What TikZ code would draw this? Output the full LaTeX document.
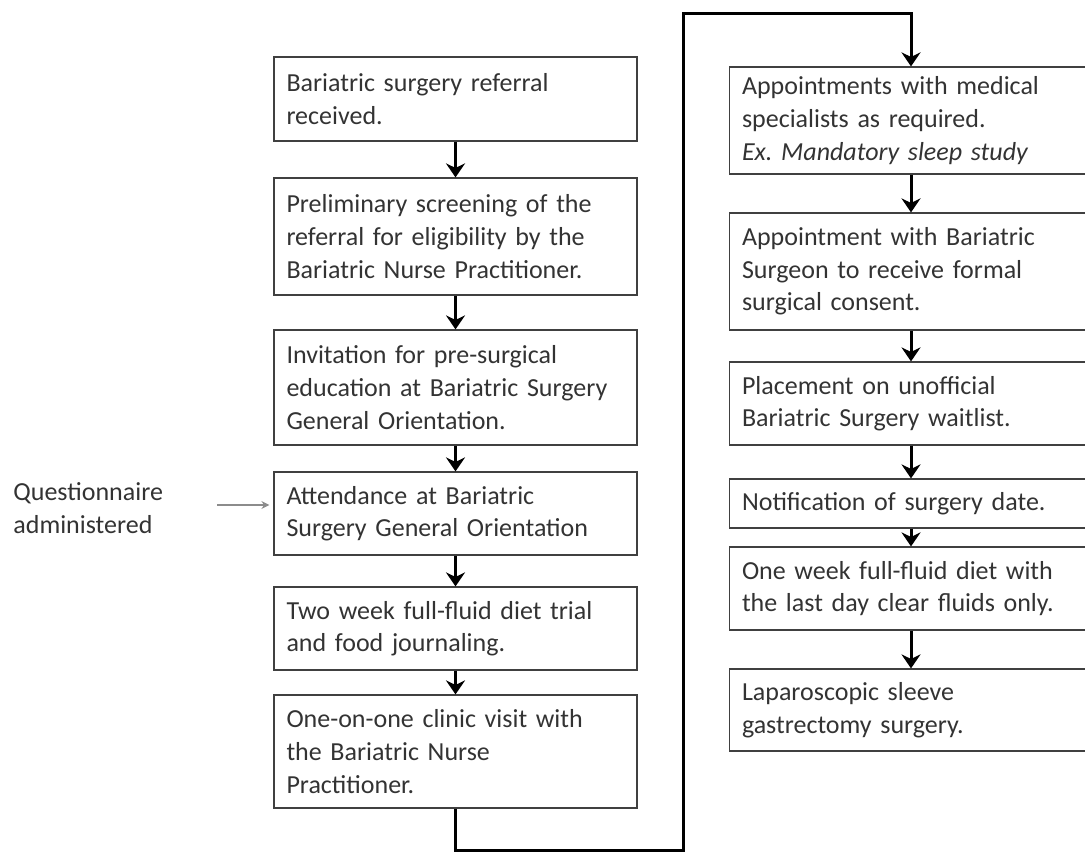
\documentclass[tikz,border=0pt]{standalone}
\usepackage{fontspec}
\setmainfont{Carlito}
\usetikzlibrary{arrows.meta}
\frenchspacing

\tikzset{
    stepbox/.style={draw=black!75, line width=0.6pt, text=black!80,
        font=\fontsize{13}{16.3}\selectfont, align=left,
        text width=169pt, inner xsep=6.25pt, inner ysep=2pt},
    flow/.style={black, line width=1.5pt, -{Stealth[length=7pt,width=9.5pt]}},
    loopline/.style={black, line width=1.5pt, -{Stealth[length=7pt,width=9.5pt]}},
    qlabel/.style={text=black!80, font=\fontsize{13}{16.3}\selectfont, align=left, anchor=west, inner xsep=0pt},
    qarrow/.style={black!45, line width=0.6pt, -{Stealth[length=4pt,width=4pt]}},
}

\begin{document}
\begin{tikzpicture}[x=0.5pt, y=-0.5pt]
    \useasboundingbox (0,0) rectangle (1085,852);
    \clip (0,0) rectangle (1085,852);

    % Left column
    \node[stepbox, minimum height=42pt] (referral) at (455.5,99)
        {Bariatric surgery referral\\received.};
    \node[stepbox, minimum height=58.5pt] (screening) at (455.5,236.5)
        {Preliminary screening of the\\referral for eligibility by the\\Bariatric Nurse Practitioner.};
    \node[stepbox, minimum height=57.5pt] (invitation) at (455.5,387.5)
        {Invitation for pre-surgical\\education at Bariatric Surgery\\General Orientation.};
    \node[stepbox, minimum height=41.5pt] (attendance) at (455.5,513.5)
        {Attendance at Bariatric\\Surgery General Orientation};
    \node[stepbox, minimum height=41.5pt] (diettrial) at (455.5,628.5)
        {Two week full-fluid diet trial\\and food journaling.};
    \node[stepbox, minimum height=56.5pt] (clinic) at (455.5,751.5)
        {One-on-one clinic visit with\\the Bariatric Nurse\\Practitioner.};

    % Right column
    \node[stepbox, minimum height=53.5pt] (specialists) at (911,120.5)
        {Appointments with medical\\specialists as required.\\\textit{Ex. Mandatory sleep study}};
    \node[stepbox, minimum height=58.5pt] (consent) at (911,271.5)
        {Appointment with Bariatric\\Surgeon to receive formal\\surgical consent.};
    \node[stepbox, minimum height=41.5pt] (waitlist) at (911,403.5)
        {Placement on unofficial\\Bariatric Surgery waitlist.};
    \node[stepbox, minimum height=24.5pt] (notify) at (911,503.5)
        {Notification of surgery date.};
    \node[stepbox, minimum height=41.5pt] (fluids) at (911,588.5)
        {One week full-fluid diet with\\the last day clear fluids only.};
    \node[stepbox, minimum height=41pt] (sleeve) at (911,710)
        {Laparoscopic sleeve\\gastrectomy surgery.};

    % Arrows between steps
    \foreach \a/\b in {referral/screening, screening/invitation, invitation/attendance,
                       attendance/diettrial, diettrial/clinic,
                       specialists/consent, consent/waitlist, waitlist/notify,
                       notify/fluids, fluids/sleeve}
        \draw[flow] (\a.south) -- (\b.north);

    % Link between the two columns
    \coordinate (loopbot) at (455.5,850);
    \coordinate (looptop) at (683,13);
    \draw[loopline] (clinic.south) -- (clinic.south |- loopbot) -| (looptop) -| (specialists.north);

    % Questionnaire
    \node[qlabel] (quest) at (13,508) {Questionnaire\\administered};
    \coordinate (qstart) at (217,505);
    \draw[qarrow, shorten >=2pt] (qstart) -- (qstart -| attendance.west);
\end{tikzpicture}
\end{document}
